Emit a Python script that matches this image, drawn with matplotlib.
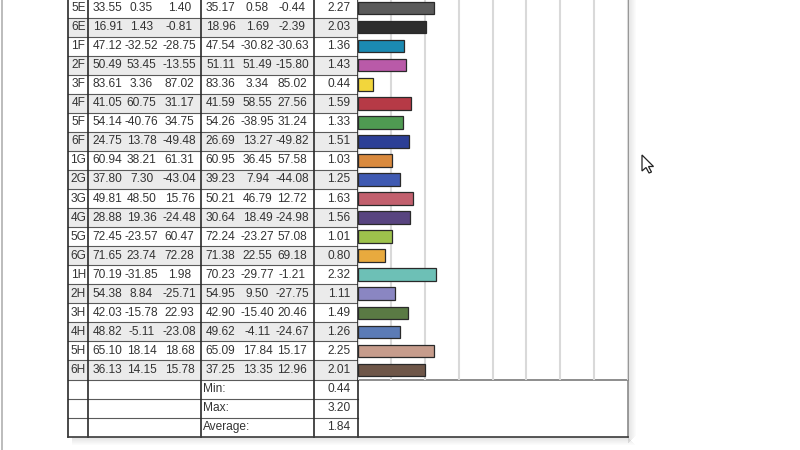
import matplotlib
matplotlib.use("Agg")
import matplotlib.pyplot as plt
from matplotlib.patches import Rectangle, Polygon

# ---------------- data ----------------
labels = ["5E", "6E", "1F", "2F", "3F", "4F", "5F", "6F", "1G", "2G",
          "3G", "4G", "5G", "6G", "1H", "2H", "3H", "4H", "5H", "6H"]
L1 = [33.55, 16.91, 47.12, 50.49, 83.61, 41.05, 54.14, 24.75, 60.94, 37.80,
      49.81, 28.88, 72.45, 71.65, 70.19, 54.38, 42.03, 48.82, 65.10, 36.13]
a1 = [0.35, 1.43, -32.52, 53.45, 3.36, 60.75, -40.76, 13.78, 38.21, 7.30,
      48.50, 19.36, -23.57, 23.74, -31.85, 8.84, -15.78, -5.11, 18.14, 14.15]
b1 = [1.40, -0.81, -28.75, -13.55, 87.02, 31.17, 34.75, -49.48, 61.31, -43.04,
      15.76, -24.48, 60.47, 72.28, 1.98, -25.71, 22.93, -23.08, 18.68, 15.78]
L2 = [35.17, 18.96, 47.54, 51.11, 83.36, 41.59, 54.26, 26.69, 60.95, 39.23,
      50.21, 30.64, 72.24, 71.38, 70.23, 54.95, 42.90, 49.62, 65.09, 37.25]
a2 = [0.58, 1.69, -30.82, 51.49, 3.34, 58.55, -38.95, 13.27, 36.45, 7.94,
      46.79, 18.49, -23.27, 22.55, -29.77, 9.50, -15.40, -4.11, 17.84, 13.35]
b2 = [-0.44, -2.39, -30.63, -15.80, 85.02, 27.56, 31.24, -49.82, 57.58, -44.08,
      12.72, -24.98, 57.08, 69.18, -1.21, -27.75, 20.46, -24.67, 15.17, 12.96]
dE = [2.27, 2.03, 1.36, 1.43, 0.44, 1.59, 1.33, 1.51, 1.03, 1.25,
      1.63, 1.56, 1.01, 0.80, 2.32, 1.11, 1.49, 1.26, 2.25, 2.01]
colors = ["#5b5b5b", "#2e2e2e", "#1b8ab2", "#b95aa8", "#f2d63c", "#b63a46",
          "#4f9a52", "#2c3f96", "#d98a3e", "#3f5ab2", "#c2606e", "#584480",
          "#9dc24c", "#e8aa3e", "#6dc0b6", "#8a86c2", "#5a7a44", "#5b7bb6",
          "#c69c8c", "#6e5648"]
summary_labels = ["Min:", "Max:", "Average:"]
summary_values = [0.44, 3.20, 1.84]
x_max = 8

# ---------------- layout (pixels) ----------------
W, H = 800, 450
y0, rh = -1.5, 19.05
x_left, x_lab, x_g1, x_g2, x_de, x_right = 68.3, 88.3, 200.7, 314.0, 357.7, 627.5
n = len(labels)
n_all = n + len(summary_labels)
y_bottom = y0 + n_all * rh
y_bar_bottom = y0 + n * rh

plt.rcParams['font.family'] = ['Liberation Sans', 'DejaVu Sans']
fig = plt.figure(figsize=(8, 4.5), dpi=100)
fig.patch.set_facecolor("white")
ax = fig.add_axes([0, 0, 1, 1])
ax.set_xlim(0, W)
ax.set_ylim(H, 0)
ax.axis("off")

# drop shadow
for k in range(8):
    a = 0.22 * (1 - k / 8)
    ax.add_patch(Rectangle((x_right + k, -5), 1, y_bottom + 5 + 6 - k,
                           facecolor="#808080", alpha=a, lw=0, zorder=0))
    ax.add_patch(Rectangle((x_left + 4, y_bottom + k), x_right - x_left - 4 + k, 1,
                           facecolor="#808080", alpha=a, lw=0, zorder=0))

# background
ax.add_patch(Rectangle((x_left, -5), x_right - x_left, y_bottom + 5,
                       facecolor="white", lw=0, zorder=1))
# row shading
for i in range(n):
    if i % 2 == 1:
        ax.add_patch(Rectangle((x_left, y0 + i * rh), x_de - x_left, rh,
                               facecolor="#ebebeb", lw=0, zorder=1.5))

# horizontal lines in table part
for i in range(1, n_all):
    ax.plot([x_left, x_de], [y0 + i * rh] * 2, color="#5a5a5a", lw=0.8, zorder=3)
# line under bar area
ax.plot([x_de, x_right], [y_bar_bottom] * 2, color="#7a7a7a", lw=1.2, zorder=3)
# vertical lines
for xv in [x_left, x_lab, x_g1, x_g2, x_de]:
    ax.plot([xv, xv], [-5, y_bottom], color="#2a2a2a", lw=1.2, zorder=4)
ax.plot([x_right, x_right], [-5, y_bottom], color="#8a8a8a", lw=1.2, zorder=4)
ax.plot([x_left, x_right], [y_bottom, y_bottom], color="#3a3a3a", lw=1.2, zorder=4)
# window edge at far left
ax.plot([2, 2], [0, H], color="#b0b0b0", lw=1.2, zorder=4)

# text
fs = 8.6
tc = "#333333"
g1_x = [107.5, 141.5, 179.5]
g2_x = [220.5, 257.5, 292.0]
for i in range(n):
    yc = y0 + (i + 0.5) * rh
    ax.text(78.3, yc, labels[i], ha="center", va="center", fontsize=fs, color=tc, zorder=5)
    for xx, v in zip(g1_x, [L1[i], a1[i], b1[i]]):
        ax.text(xx, yc, f"{v:.2f}", ha="center", va="center", fontsize=fs, color=tc, zorder=5)
    for xx, v in zip(g2_x, [L2[i], a2[i], b2[i]]):
        ax.text(xx, yc, f"{v:.2f}", ha="center", va="center", fontsize=fs, color=tc, zorder=5)
    ax.text(350.5, yc, f"{dE[i]:.2f}", ha="right", va="center", fontsize=fs, color=tc, zorder=5)
for j, (lab, v) in enumerate(zip(summary_labels, summary_values)):
    yc = y0 + (n + j + 0.5) * rh
    ax.text(203, yc, lab, ha="left", va="center", fontsize=fs, color=tc, zorder=5)
    ax.text(350.5, yc, f"{v:.2f}", ha="right", va="center", fontsize=fs, color=tc, zorder=5)

# mouse cursor (decoration)
cx, cy = 642, 155
cur = [(0, 0), (0, 16), (4, 12.5), (7, 18), (9.5, 17), (6.5, 11.5), (11.5, 11.5)]
ax.add_patch(Polygon([(cx + px, cy + py) for px, py in cur], closed=True,
                     facecolor="white", edgecolor="#222222", lw=0.9, zorder=6))

# ---------------- bar axes ----------------
bx0 = x_de / W
bw = (x_right - x_de) / W
by_top = 1 - y0 / H
by_bot = 1 - y_bar_bottom / H
bax = fig.add_axes([bx0, by_bot, bw, by_top - by_bot])
bax.set_facecolor("none")
bax.set_xlim(0, x_max)
bax.set_ylim(n - 0.5, -0.5)
bax.set_xticks(range(0, x_max + 1))
bax.set_yticks([])
bax.tick_params(axis="x", length=0, labelbottom=False)
bax.grid(axis="x", color="#d9d9d9", lw=1.5)
bax.set_axisbelow(True)
for s in bax.spines.values():
    s.set_visible(False)
bax.barh(range(n), dE, height=0.66, color=colors, edgecolor="#2a2a2a", linewidth=0.9, zorder=3)

fig.savefig("out.png", dpi=100, facecolor="white")
